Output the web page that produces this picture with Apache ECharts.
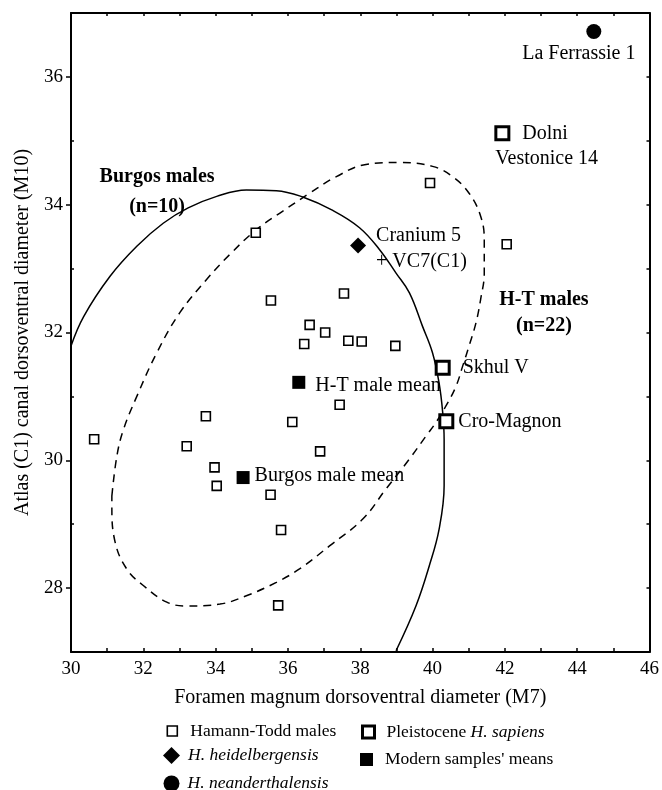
<!DOCTYPE html>
<html>
<head>
<meta charset="utf-8">
<title>Atlas canal vs foramen magnum</title>
<script src="https://cdn.jsdelivr.net/npm/echarts@6/dist/echarts.min.js"></script>
<style>
  html, body { margin: 0; padding: 0; background: #fff; }
  #chart { width: 662px; height: 790px; }
</style>
</head>
<body>
<div id="chart"></div>
<script>
// Foramen magnum dorsoventral diameter (M7) vs atlas canal dorsoventral diameter (M10), mm

const xTicks = [30, 32, 34, 36, 38, 40, 42, 44, 46];
const yTicks = [28, 30, 32, 34, 36];
const yMinorTicks = [27, 29, 31, 33, 35, 37];

// Hamann-Todd males, [M7, M10]
const hamannToddMales = [
  [35.11, 33.56], [35.53, 32.50], [37.55, 32.61], [36.60, 32.12],
  [37.03, 32.00], [36.45, 31.82], [37.67, 31.87], [38.04, 31.86],
  [39.93, 34.34], [42.05, 33.38], [38.97, 31.79], [37.43, 30.87],
  [30.64, 30.33], [33.73, 30.69], [33.20, 30.22], [33.97, 29.89],
  [34.03, 29.60], [35.52, 29.46], [35.81, 28.91], [35.73, 27.73],
  [36.12, 30.60], [36.89, 30.14]
];

const pleistoceneNames = ['Dolni Vestonice 14', 'Skhul V', 'Cro-Magnon'];
const pleistoceneValues = [[41.93, 35.12], [40.28, 31.45], [40.38, 30.61]];

const heidelbergNames = ['Cranium 5 + VC7(C1)'];
const heidelbergValues = [[37.94, 33.36]];

const neanderNames = ['La Ferrassie 1'];
const neanderValues = [[44.46, 36.71]];

const meanNames = ['H-T male mean', 'Burgos male mean'];
const meanValues = [[36.30, 31.22], [34.76, 29.73]];

// Burgos males (n=10) ellipse outline, clipped by the plot frame
const burgosEllipse = [
  [30.00, 31.79], [30.35, 32.25], [31.08, 32.88], [31.82, 33.35],
  [32.55, 33.71], [33.24, 33.95], [34.03, 34.13], [34.85, 34.23],
  [35.68, 34.22], [36.41, 34.12], [37.24, 33.91], [37.98, 33.64],
  [38.53, 33.30], [38.99, 32.93], [39.36, 32.62], [39.72, 32.10],
  [40.00, 31.68], [40.18, 31.21], [40.28, 30.75], [40.32, 30.33],
  [40.32, 29.60], [40.18, 28.92], [39.91, 28.35], [39.54, 27.72],
  [38.99, 27.02]
];

// H-T males (n=22) ellipse outline
const htEllipse = [
  [31.13, 29.44], [31.27, 30.07], [31.45, 30.48], [31.82, 31.00],
  [32.37, 31.68], [33.01, 32.31], [33.75, 32.83], [34.39, 33.22],
  [35.13, 33.61], [35.86, 33.90], [36.60, 34.18], [37.34, 34.44],
  [38.16, 34.63], [39.08, 34.66], [40.00, 34.60], [40.55, 34.44],
  [41.01, 34.18], [41.33, 33.82], [41.43, 33.45], [41.43, 32.93],
  [41.33, 32.52], [41.20, 32.15], [41.01, 31.79], [40.83, 31.47],
  [40.65, 31.16], [40.37, 30.85], [40.09, 30.59], [39.82, 30.38],
  [39.36, 30.02], [38.71, 29.55], [38.07, 29.08], [37.15, 28.66],
  [36.32, 28.30], [35.68, 28.09], [34.85, 27.88], [34.12, 27.75],
  [33.20, 27.72], [32.65, 27.78], [32.00, 28.04], [31.54, 28.30],
  [31.22, 28.72], [31.13, 29.29], [31.13, 29.44]
];

// Group captions placed in data units
const groupCaptions = [
  { text: ['Burgos males', '(n=10)'], at: [32.38, 34.20] },
  { text: ['H-T males', '(n=22)'], at: [43.08, 32.31] }
];

const FONT = "'Liberation Serif', 'Times New Roman', serif";
const BLACK = '#000';

// How each named specimen label sits next to its marker
const labelStyles = {
  'Dolni Vestonice 14': {
    position: [1, -4], align: 'left', verticalAlign: 'top', lineHeight: 25,
    formatter: '{a|Dolni}\nVestonice 14',
    rich: { a: { padding: [0, 0, 0, 27], fontSize: 20, fontFamily: FONT, color: BLACK, lineHeight: 25 } }
  },
  'Skhul V': { position: 'right', distance: 12 },
  'Cro-Magnon': { position: 'right', distance: 4 },
  'Cranium 5 + VC7(C1)': {
    position: 'right', distance: 10, offset: [0, 3], lineHeight: 26,
    formatter: 'Cranium 5\n+ VC7(C1)'
  },
  'La Ferrassie 1': { position: 'bottom', distance: 5, offset: [-15, 0] },
  'H-T male mean': { position: 'right', distance: 10, offset: [0, 3] },
  'Burgos male mean': { position: 'right', distance: 5, offset: [0, -2] }
};

function named(names, values) {
  return names.map((n, i) => ({
    name: n,
    value: values[i],
    label: Object.assign({
      show: true, color: BLACK, fontSize: 20, fontFamily: FONT, formatter: '{b}'
    }, labelStyles[n] || {})
  }));
}

const chart = echarts.init(document.getElementById('chart'), null, { renderer: 'canvas' });

const axisLine = { show: true, lineStyle: { color: BLACK, width: 2 } };
const tickLine = { color: BLACK, width: 1.5 };

function itemLegend(name, icon, size, left, top, pad, formatter, itemStyle) {
  return {
    data: [{ name: name, icon: icon }],
    left: left, top: top, padding: 0,
    itemWidth: size, itemHeight: size,
    selectedMode: false,
    itemStyle: Object.assign({ opacity: 1 }, itemStyle),
    textStyle: {
      color: BLACK, fontSize: 17.5, fontFamily: FONT, padding: [0, 0, 0, pad],
      rich: { i: { fontStyle: 'italic', fontSize: 17.5, fontFamily: FONT, color: BLACK } }
    },
    formatter: formatter
  };
}

const option = {
  animation: false,
  backgroundColor: '#fff',
  textStyle: { fontFamily: FONT, color: BLACK },
  grid: { left: 71, top: 13, width: 580, height: 639, containLabel: false },
  xAxis: [
    {
      type: 'value', min: xTicks[0], max: xTicks[xTicks.length - 1], interval: 2,
      position: 'bottom',
      name: 'Foramen magnum dorsoventral diameter (M7)',
      nameLocation: 'middle', nameGap: 36,
      nameTextStyle: { fontSize: 20, fontFamily: FONT, color: BLACK },
      axisLine: axisLine,
      axisTick: { show: true, inside: true, length: 4, lineStyle: tickLine },
      minorTick: { show: true, splitNumber: 2, length: 4, lineStyle: tickLine },
      axisLabel: { fontSize: 19, fontFamily: FONT, color: BLACK, margin: 8 },
      splitLine: { show: false }
    },
    {
      type: 'value', min: xTicks[0], max: xTicks[xTicks.length - 1], interval: 1,
      position: 'top',
      axisLine: axisLine,
      axisTick: { show: true, inside: true, length: 3, lineStyle: tickLine },
      axisLabel: { show: false },
      splitLine: { show: false }
    }
  ],
  yAxis: [
    {
      type: 'value', min: 27, max: 37, position: 'left',
      name: 'Atlas (C1) canal dorsoventral diameter (M10)',
      nameLocation: 'middle', nameGap: 37, nameRotate: 90,
      nameTextStyle: { fontSize: 20, fontFamily: FONT, color: BLACK },
      axisLine: axisLine,
      axisTick: { show: true, inside: false, length: 5, lineStyle: tickLine, customValues: yTicks },
      axisLabel: { fontSize: 19, fontFamily: FONT, color: BLACK, margin: 8, customValues: yTicks },
      splitLine: { show: false }
    },
    {
      type: 'value', min: 27, max: 37, position: 'left',
      axisLine: { show: false },
      axisTick: { show: true, inside: true, length: 3, lineStyle: tickLine, customValues: yMinorTicks },
      axisLabel: { show: false },
      splitLine: { show: false }
    },
    {
      type: 'value', min: 27, max: 37, interval: 1, position: 'right',
      axisLine: axisLine,
      axisTick: { show: true, inside: true, length: 3, lineStyle: tickLine },
      axisLabel: { show: false },
      splitLine: { show: false }
    }
  ],
  legend: [
    itemLegend('Hamann-Todd males', 'rect', 10, 166.5, 722, 8, '{name}',
      { color: '#fff', borderColor: BLACK, borderWidth: 1.6 }),
    itemLegend('H. heidelbergensis', 'diamond', 17, 163, 746.5, 3, '{i|H. heidelbergensis}',
      { color: BLACK, borderWidth: 0 }),
    itemLegend('H. neanderthalensis', 'circle', 16, 163.5, 774.5, 3, '{i|H. neanderthalensis}',
      { color: BLACK, borderWidth: 0 }),
    itemLegend('Pleistocene H. sapiens', 'rect', 12, 361, 723, 7, 'Pleistocene {i|H. sapiens}',
      { color: '#fff', borderColor: BLACK, borderWidth: 3 }),
    itemLegend("Modern samples' means", 'rect', 13, 360, 750.5, 7, '{name}',
      { color: BLACK, borderWidth: 0 })
  ],
  series: [
    {
      name: 'Burgos males (n=10)', type: 'line', data: burgosEllipse,
      smooth: 0.4, symbol: 'none', silent: true, z: 1,
      lineStyle: { color: BLACK, width: 1.5, type: 'solid' },
      markPoint: {
        silent: true, symbol: 'circle', symbolSize: 0,
        itemStyle: { color: 'transparent' },
        label: {
          show: true, position: 'inside', lineHeight: 30,
          fontSize: 20, fontWeight: 'bold', fontFamily: FONT, color: BLACK,
          formatter: groupCaptions[0].text.join('\n')
        },
        data: [{ coord: groupCaptions[0].at }]
      }
    },
    {
      name: 'H-T males (n=22)', type: 'line', data: htEllipse,
      smooth: 0.4, symbol: 'none', silent: true, z: 1,
      lineStyle: { color: BLACK, width: 1.5, type: [8, 6] },
      markPoint: {
        silent: true, symbol: 'circle', symbolSize: 0,
        itemStyle: { color: 'transparent' },
        label: {
          show: true, position: 'inside', lineHeight: 26,
          fontSize: 20, fontWeight: 'bold', fontFamily: FONT, color: BLACK,
          formatter: groupCaptions[1].text.join('\n')
        },
        data: [{ coord: groupCaptions[1].at }]
      }
    },
    {
      name: 'Hamann-Todd males', type: 'scatter', data: hamannToddMales,
      symbol: 'rect', symbolSize: 9, z: 3,
      itemStyle: { color: '#fff', borderColor: BLACK, borderWidth: 1.6, opacity: 1 }
    },
    {
      name: 'Pleistocene H. sapiens', type: 'scatter',
      data: named(pleistoceneNames, pleistoceneValues),
      symbol: 'rect', symbolSize: 13, z: 4,
      itemStyle: { color: '#fff', borderColor: BLACK, borderWidth: 3, opacity: 1 }
    },
    {
      name: 'H. heidelbergensis', type: 'scatter',
      data: named(heidelbergNames, heidelbergValues),
      symbol: 'diamond', symbolSize: 16, z: 4,
      itemStyle: { color: BLACK, opacity: 1 }
    },
    {
      name: 'H. neanderthalensis', type: 'scatter',
      data: named(neanderNames, neanderValues),
      symbol: 'circle', symbolSize: 15, z: 4,
      itemStyle: { color: BLACK, opacity: 1 }
    },
    {
      name: "Modern samples' means", type: 'scatter',
      data: named(meanNames, meanValues),
      symbol: 'rect', symbolSize: 13, z: 4,
      itemStyle: { color: BLACK, opacity: 1 }
    }
  ]
};

chart.setOption(option);
</script>
</body>
</html>
